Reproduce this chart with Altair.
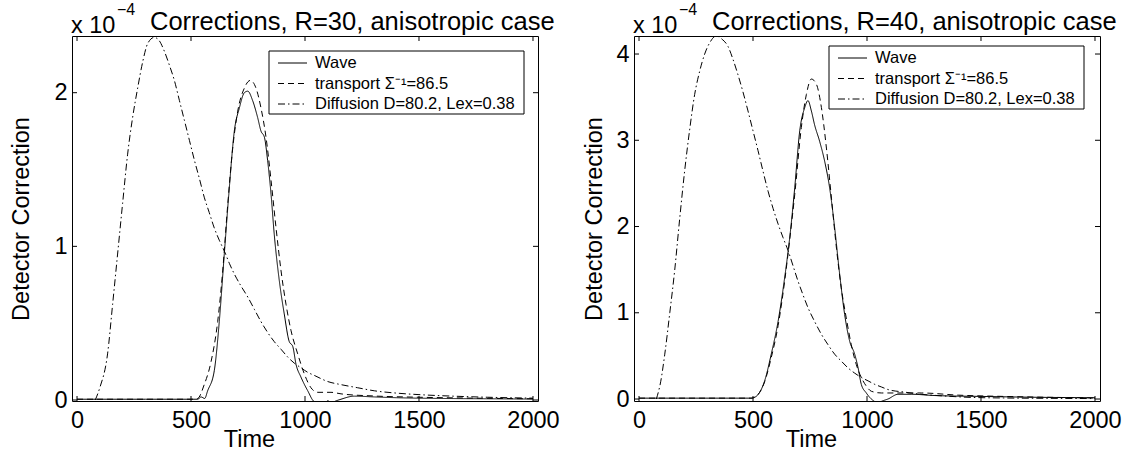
import altair as alt
import pandas as pd

# ---------------- data ----------------
SERIES = ["Wave", "transport \u03a3\u207b\u00b9=86.5", "Diffusion D=80.2, Lex=0.38"]

# R = 30
T_WAVE_30 = [0, 300, 530, 544, 560, 573, 602, 624, 646, 668, 690, 712, 734, 749, 770, 792, 807, 822, 836, 851,
             865, 887, 909, 931, 946, 961, 982, 1012, 1041, 1085, 1100, 1115, 1129, 1158, 1216, 1304, 1400,
             1600, 1800, 2000]
V_WAVE_30 = [0.005, 0.005, 0.005, 0.02, 0.01, 0.06, 0.19, 0.51, 0.95, 1.38, 1.75, 1.90, 2.00, 2.01, 1.95, 1.84,
             1.75, 1.71, 1.56, 1.34, 1.08, 0.78, 0.56, 0.38, 0.35, 0.23, 0.15, 0.06, -0.01, -0.02, -0.005, -0.02,
             -0.01, 0.005, 0.025, 0.02, 0.015, 0.01, 0.008, 0.006]
T_TRAN_30 = [0, 500, 529, 558, 588, 617, 639, 661, 683, 705, 734, 760, 785, 807, 829, 851, 873, 895, 917, 939,
             968, 997, 1026, 1056, 1114, 1158, 1304, 1500, 1750, 2000]
V_TRAN_30 = [0.005, 0.005, 0.01, 0.10, 0.25, 0.51, 0.84, 1.27, 1.64, 1.88, 2.03, 2.08, 2.03, 1.90, 1.71, 1.43,
             1.12, 0.84, 0.62, 0.45, 0.30, 0.17, 0.08, 0.05, 0.05, 0.04, 0.026, 0.018, 0.012, 0.008]
T_DIFF_30 = [80, 100, 134, 156, 178, 200, 222, 244, 266, 288, 310, 339, 360, 383, 405, 427, 449, 471, 493, 515,
             537, 558, 580, 602, 624, 646, 668, 690, 720, 749, 778, 807, 836, 865, 895, 924, 953, 982, 1012,
             1041, 1100, 1158, 1230, 1304, 1400, 1500, 1650, 1800, 2000]
V_DIFF_30 = [0.0, 0.08, 0.30, 0.62, 0.95, 1.28, 1.60, 1.84, 2.03, 2.20, 2.32, 2.36, 2.34, 2.27, 2.18, 2.08, 1.95,
             1.82, 1.69, 1.56, 1.44, 1.32, 1.22, 1.12, 1.04, 0.97, 0.89, 0.82, 0.74, 0.67, 0.59, 0.51, 0.44,
             0.38, 0.33, 0.28, 0.24, 0.21, 0.18, 0.16, 0.12, 0.10, 0.08, 0.06, 0.045, 0.035, 0.025, 0.018, 0.012]

# R = 40
T_WAVE_40 = [0, 490, 507, 522, 551, 580, 610, 639, 661, 683, 705, 727, 741, 756, 770, 792, 814, 836, 858, 880,
             902, 924, 946, 961, 975, 997, 1019, 1048, 1070, 1092, 1136, 1194, 1300, 1500, 1750, 2000]
V_WAVE_40 = [0.01, 0.01, 0.02, 0.05, 0.21, 0.52, 0.90, 1.41, 1.87, 2.45, 3.11, 3.38, 3.46, 3.34, 3.18, 2.99,
             2.76, 2.45, 1.99, 1.45, 0.98, 0.67, 0.52, 0.36, 0.17, 0.07, 0.0, -0.04, -0.02, 0.0, 0.055, 0.055,
             0.04, 0.03, 0.02, 0.015]
T_TRAN_40 = [0, 495, 507, 551, 580, 610, 639, 661, 683, 712, 734, 756, 778, 800, 822, 844, 866, 887, 909, 931,
             953, 975, 997, 1019, 1063, 1121, 1238, 1400, 1600, 1800, 2000]
V_TRAN_40 = [0.01, 0.01, 0.02, 0.20, 0.48, 0.85, 1.37, 1.85, 2.37, 3.15, 3.53, 3.71, 3.65, 3.38, 2.91, 2.33,
             1.75, 1.29, 0.94, 0.63, 0.40, 0.25, 0.15, 0.09, 0.07, 0.07, 0.07, 0.045, 0.03, 0.02, 0.012]
T_DIFF_40 = [76, 95, 113, 135, 156, 178, 200, 222, 244, 266, 288, 310, 339, 365, 390, 412, 434, 456, 478, 500,
             522, 544, 566, 588, 610, 632, 654, 675, 697, 719, 741, 770, 800, 829, 858, 887, 917, 946, 975,
             1005, 1034, 1063, 1092, 1165, 1238, 1340, 1443, 1600, 1800, 2000]
V_DIFF_40 = [0.0, 0.2, 0.52, 1.0, 1.48, 2.08, 2.64, 3.12, 3.53, 3.80, 4.0, 4.13, 4.21, 4.17, 4.09, 3.94, 3.76,
             3.56, 3.34, 3.11, 2.88, 2.64, 2.41, 2.21, 2.03, 1.87, 1.72, 1.55, 1.37, 1.21, 1.06, 0.90, 0.75,
             0.63, 0.52, 0.44, 0.36, 0.30, 0.25, 0.21, 0.17, 0.14, 0.11, 0.08, 0.055, 0.035, 0.02, 0.012,
             0.008, 0.005]

X_TICKS = [0, 500, 1000, 1500, 2000]
Y_TICKS_30 = [0, 1, 2]
Y_TICKS_40 = [0, 1, 2, 3, 4]
TITLE_30 = "Corrections, R=30, anisotropic case"
TITLE_40 = "Corrections, R=40, anisotropic case"

# ---------------- styling ----------------
W, H = 466, 365
FONT = "Liberation Sans"
XDOM = [-22, 2022]
DASHES = [[1, 0], [6, 4], [7, 3, 1.5, 3]]


def make_df(pairs):
    rows = []
    for name, ts, vs in pairs:
        for t, v in zip(ts, vs):
            rows.append({"t": t, "v": v, "series": name})
    return pd.DataFrame(rows)


def panel(df, ydom, yticks, title, legend_xy, ytitle_x):
    xs = alt.Scale(domain=XDOM, nice=False, zero=False)
    ys = alt.Scale(domain=ydom, nice=False, zero=False)
    xax = alt.Axis(values=X_TICKS, title="Time", titleX=177, titleY=45, titleBaseline="alphabetic",
                   titleAlign="center", labelPadding=7, format="d", ticks=False, tickSize=0, domain=False,
                   grid=False, labelFlush=False, labelOverlap=False)
    yax = alt.Axis(values=yticks, title="Detector Correction", format="d", titleX=ytitle_x, titleY=H / 2,
                   titleAlign="center", titleBaseline="alphabetic", labelPadding=5, ticks=False, tickSize=0,
                   domain=False, grid=False, labelFlush=False, labelOverlap=False)
    lines = alt.Chart(df).mark_line(color="black", strokeWidth=1, clip=True, interpolate="monotone").encode(
        x=alt.X("t:Q", scale=xs, axis=xax),
        y=alt.Y("v:Q", scale=ys, axis=yax),
        strokeDash=alt.StrokeDash("series:N", scale=alt.Scale(domain=SERIES, range=DASHES), legend=None),
        detail="series:N",
    )
    xt = pd.DataFrame({"t": X_TICKS})
    yt = pd.DataFrame({"v": yticks})
    tb = alt.Chart(xt).mark_rule(color="black", strokeWidth=1).encode(
        x=alt.X("t:Q", scale=xs, axis=xax), y=alt.value(H), y2=alt.value(H - 5))
    tt = alt.Chart(xt).mark_rule(color="black", strokeWidth=1).encode(
        x=alt.X("t:Q", scale=xs, axis=xax), y=alt.value(0), y2=alt.value(5))
    tl = alt.Chart(yt).mark_rule(color="black", strokeWidth=1).encode(
        y=alt.Y("v:Q", scale=ys, axis=yax), x=alt.value(0), x2=alt.value(5))
    tr = alt.Chart(yt).mark_rule(color="black", strokeWidth=1).encode(
        y=alt.Y("v:Q", scale=ys, axis=yax), x=alt.value(W), x2=alt.value(W - 5))

    one = pd.DataFrame({"k": [0]})
    lx, ly = legend_xy
    box = alt.Chart(one).mark_rect(fill="white", stroke="black", strokeWidth=1).encode(
        x=alt.value(lx), x2=alt.value(lx + 255), y=alt.value(ly), y2=alt.value(ly + 63))
    leg = [box]
    for i, name in enumerate(SERIES):
        ry = ly + 12 + i * 20.5
        leg.append(alt.Chart(one).mark_rule(color="black", strokeWidth=1, strokeDash=DASHES[i]).encode(
            x=alt.value(lx + 9), x2=alt.value(lx + 38), y=alt.value(ry)))
        leg.append(alt.Chart(one).mark_text(text=name, font=FONT, fontSize=16.5, align="left",
                                            baseline="middle", color="black").encode(
            x=alt.value(lx + 46), y=alt.value(ry)))

    t1 = alt.Chart(one).mark_text(text="x 10", font=FONT, fontSize=23.5, align="left",
                                  baseline="alphabetic", color="black").encode(x=alt.value(-1), y=alt.value(-3))
    t2 = alt.Chart(one).mark_text(text="\u22124", font=FONT, fontSize=16, align="left",
                                  baseline="alphabetic", color="black").encode(x=alt.value(45), y=alt.value(-21))
    t3 = alt.Chart(one).mark_text(text=title, font=FONT, fontSize=25.5, align="left",
                                  baseline="alphabetic", color="black").encode(x=alt.value(78), y=alt.value(-6))
    spacer = alt.Chart(one).mark_rule(opacity=0).encode(
        x=alt.value(-71), x2=alt.value(-70), y=alt.value(-35))
    return alt.layer(lines, tb, tt, tl, tr, *leg, t1, t2, t3, spacer).properties(width=W, height=H)


df30 = make_df([(SERIES[0], T_WAVE_30, V_WAVE_30), (SERIES[1], T_TRAN_30, V_TRAN_30),
                (SERIES[2], T_DIFF_30, V_DIFF_30)])
df40 = make_df([(SERIES[0], T_WAVE_40, V_WAVE_40), (SERIES[1], T_TRAN_40, V_TRAN_40),
                (SERIES[2], T_DIFF_40, V_DIFF_40)])

left = panel(df30, [-0.0065, 2.369], Y_TICKS_30, TITLE_30, (197, 15), -44)
right = panel(df40, [-0.023, 4.209], Y_TICKS_40, TITLE_40, (195, 10), -33)

chart = alt.hconcat(left, right, spacing=96, bounds="flush").properties(
    padding={"left": 0, "top": 0, "right": 0, "bottom": 0}, background="white"
).configure_view(stroke="black", strokeWidth=1).configure_axis(
    labelFont=FONT, labelFontSize=23.5, labelColor="black", titleFont=FONT, titleFontSize=23.5,
    titleFontWeight="normal", titleColor="black"
)

chart.save("out.html", embed_options={"renderer": "svg", "actions": False})
